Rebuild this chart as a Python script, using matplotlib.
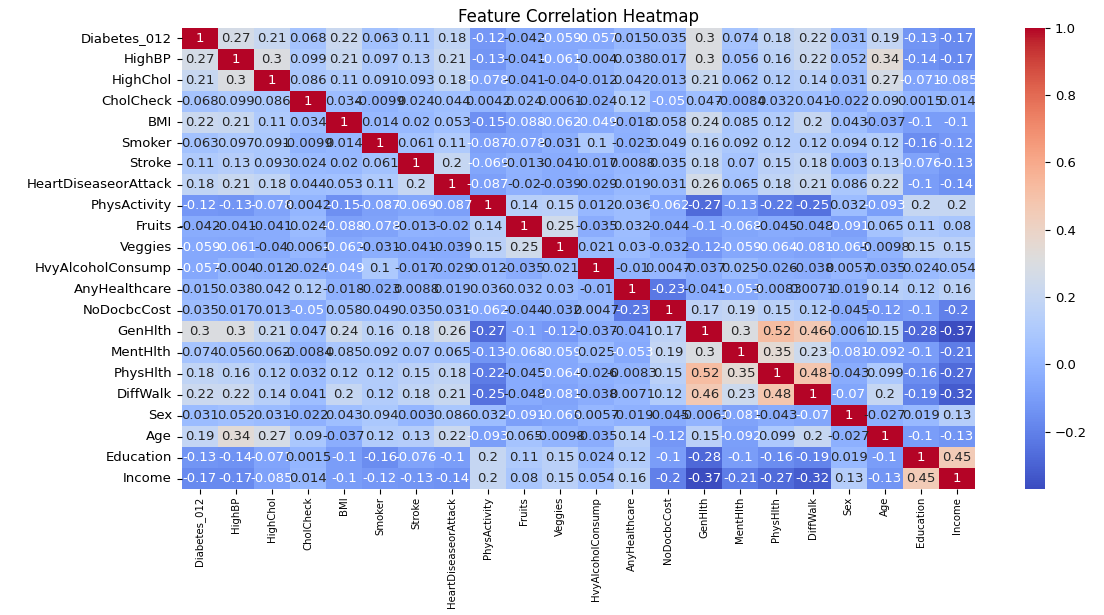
import numpy as np
import pandas as pd
import matplotlib
matplotlib.use("Agg")
import matplotlib.pyplot as plt
import seaborn as sns

# Feature names (rows / columns of the correlation matrix)
features = [
    "Diabetes_012", "HighBP", "HighChol", "CholCheck", "BMI", "Smoker", "Stroke",
    "HeartDiseaseorAttack", "PhysActivity", "Fruits", "Veggies", "HvyAlcoholConsump",
    "AnyHealthcare", "NoDocbcCost", "GenHlth", "MentHlth", "PhysHlth", "DiffWalk",
    "Sex", "Age", "Education", "Income",
]

# Correlation rows
diabetes_012 = [1, 0.27, 0.21, 0.068, 0.22, 0.063, 0.11, 0.18, -0.12, -0.042, -0.059, -0.057, 0.015, 0.035, 0.3, 0.074, 0.18, 0.22, 0.031, 0.19, -0.13, -0.17]
high_bp = [0.27, 1, 0.3, 0.099, 0.21, 0.097, 0.13, 0.21, -0.13, -0.041, -0.061, -0.004, 0.038, 0.017, 0.3, 0.056, 0.16, 0.22, 0.052, 0.34, -0.14, -0.17]
high_chol = [0.21, 0.3, 1, 0.086, 0.11, 0.091, 0.093, 0.18, -0.078, -0.041, -0.04, -0.012, 0.042, 0.013, 0.21, 0.062, 0.12, 0.14, 0.031, 0.27, -0.071, -0.085]
chol_check = [0.068, 0.099, 0.086, 1, 0.034, -0.0099, 0.024, 0.044, 0.0042, 0.024, 0.0061, -0.024, 0.12, -0.05, 0.047, -0.0084, 0.032, 0.041, -0.022, 0.09, 0.0015, 0.014]
bmi = [0.22, 0.21, 0.11, 0.034, 1, 0.014, 0.02, 0.053, -0.15, -0.088, -0.062, -0.049, -0.018, 0.058, 0.24, 0.085, 0.12, 0.2, 0.043, -0.037, -0.1, -0.1]
smoker = [0.063, 0.097, 0.091, -0.0099, 0.014, 1, 0.061, 0.11, -0.087, -0.078, -0.031, 0.1, -0.023, 0.049, 0.16, 0.092, 0.12, 0.12, 0.094, 0.12, -0.16, -0.12]
stroke = [0.11, 0.13, 0.093, 0.024, 0.02, 0.061, 1, 0.2, -0.069, -0.013, -0.041, -0.017, 0.0088, 0.035, 0.18, 0.07, 0.15, 0.18, 0.003, 0.13, -0.076, -0.13]
heart = [0.18, 0.21, 0.18, 0.044, 0.053, 0.11, 0.2, 1, -0.087, -0.02, -0.039, -0.029, 0.019, 0.031, 0.26, 0.065, 0.18, 0.21, 0.086, 0.22, -0.1, -0.14]
phys_activity = [-0.12, -0.13, -0.078, 0.0042, -0.15, -0.087, -0.069, -0.087, 1, 0.14, 0.15, 0.012, 0.036, -0.062, -0.27, -0.13, -0.22, -0.25, 0.032, -0.093, 0.2, 0.2]
fruits = [-0.042, -0.041, -0.041, 0.024, -0.088, -0.078, -0.013, -0.02, 0.14, 1, 0.25, -0.035, 0.032, -0.044, -0.1, -0.068, -0.045, -0.048, -0.091, 0.065, 0.11, 0.08]
veggies = [-0.059, -0.061, -0.04, 0.0061, -0.062, -0.031, -0.041, -0.039, 0.15, 0.25, 1, 0.021, 0.03, -0.032, -0.12, -0.059, -0.064, -0.081, -0.065, -0.0098, 0.15, 0.15]
hvy_alcohol = [-0.057, -0.004, -0.012, -0.024, -0.049, 0.1, -0.017, -0.029, 0.012, -0.035, 0.021, 1, -0.01, 0.0047, -0.037, 0.025, -0.026, -0.038, 0.0057, -0.035, 0.024, 0.054]
any_healthcare = [0.015, 0.038, 0.042, 0.12, -0.018, -0.023, 0.0088, 0.019, 0.036, 0.032, 0.03, -0.01, 1, -0.23, -0.041, -0.053, -0.0083, 0.0071, -0.019, 0.14, 0.12, 0.16]
no_doc_cost = [0.035, 0.017, 0.013, -0.05, 0.058, 0.049, 0.035, 0.031, -0.062, -0.044, -0.032, 0.0047, -0.23, 1, 0.17, 0.19, 0.15, 0.12, -0.045, -0.12, -0.1, -0.2]
gen_hlth = [0.3, 0.3, 0.21, 0.047, 0.24, 0.16, 0.18, 0.26, -0.27, -0.1, -0.12, -0.037, -0.041, 0.17, 1, 0.3, 0.52, 0.46, -0.0061, 0.15, -0.28, -0.37]
ment_hlth = [0.074, 0.056, 0.062, -0.0084, 0.085, 0.092, 0.07, 0.065, -0.13, -0.068, -0.059, 0.025, -0.053, 0.19, 0.3, 1, 0.35, 0.23, -0.081, -0.092, -0.1, -0.21]
phys_hlth = [0.18, 0.16, 0.12, 0.032, 0.12, 0.12, 0.15, 0.18, -0.22, -0.045, -0.064, -0.026, -0.0083, 0.15, 0.52, 0.35, 1, 0.48, -0.043, 0.099, -0.16, -0.27]
diff_walk = [0.22, 0.22, 0.14, 0.041, 0.2, 0.12, 0.18, 0.21, -0.25, -0.048, -0.081, -0.038, 0.0071, 0.12, 0.46, 0.23, 0.48, 1, -0.07, 0.2, -0.19, -0.32]
sex = [0.031, 0.052, 0.031, -0.022, 0.043, 0.094, 0.003, 0.086, 0.032, -0.091, -0.065, 0.0057, -0.019, -0.045, -0.0061, -0.081, -0.043, -0.07, 1, -0.027, 0.019, 0.13]
age = [0.19, 0.34, 0.27, 0.09, -0.037, 0.12, 0.13, 0.22, -0.093, 0.065, -0.0098, -0.035, 0.14, -0.12, 0.15, -0.092, 0.099, 0.2, -0.027, 1, -0.1, -0.13]
education = [-0.13, -0.14, -0.071, 0.0015, -0.1, -0.16, -0.076, -0.1, 0.2, 0.11, 0.15, 0.024, 0.12, -0.1, -0.28, -0.1, -0.16, -0.19, 0.019, -0.1, 1, 0.45]
income = [-0.17, -0.17, -0.085, 0.014, -0.1, -0.12, -0.13, -0.14, 0.2, 0.08, 0.15, 0.054, 0.16, -0.2, -0.37, -0.21, -0.27, -0.32, 0.13, -0.13, 0.45, 1]

rows = [diabetes_012, high_bp, high_chol, chol_check, bmi, smoker, stroke, heart,
        phys_activity, fruits, veggies, hvy_alcohol, any_healthcare, no_doc_cost,
        gen_hlth, ment_hlth, phys_hlth, diff_walk, sex, age, education, income]
corr = pd.DataFrame(np.array(rows), index=features, columns=features)

fig = plt.figure(figsize=(11.04, 6.15), dpi=100)
ax = fig.add_axes([0.1646, 0.2049, 0.7183, 0.7501])
cax = fig.add_axes([0.9285, 0.2049, 0.0181, 0.7501])

sns.heatmap(corr, annot=True, cmap="coolwarm", ax=ax, cbar_ax=cax,
            annot_kws={"fontsize": 9.5})
ax.set_title("Feature Correlation Heatmap", fontsize=12, pad=4)
ax.tick_params(axis="y", labelsize=9.5)
ax.tick_params(axis="x", labelsize=7.3, pad=2)
plt.setp(ax.get_xticklabels(), rotation=90)
plt.setp(ax.get_yticklabels(), rotation=0)
cax.tick_params(labelsize=9.5)

fig.savefig("out.png", dpi=100)
